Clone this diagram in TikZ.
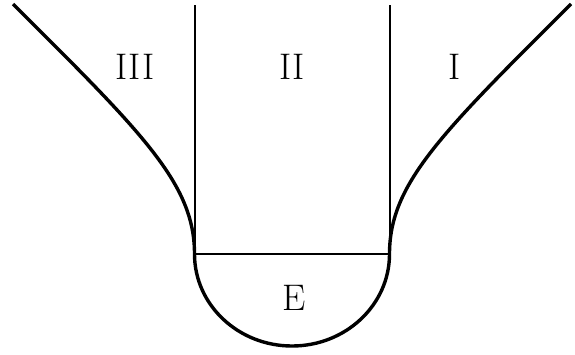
\documentclass[tikz,border=0pt]{standalone}
\begin{document}
\begin{tikzpicture}[x=1pt,y=-1pt,
  thickline/.style={line width=3.4pt},
  thinline/.style={line width=2pt},
  lab/.style={font=\fontsize{37}{40}\selectfont, inner sep=0pt}]
\useasboundingbox (0,0) rectangle (575,354);
\coordinate (LT) at (194.5,5);
\coordinate (RT) at (389.5,5);
\coordinate (LB) at (194.5,254);
\coordinate (RB) at (389.5,254);
\coordinate (LE) at (13,4);
\coordinate (RE) at (571,4);
% verticals and base
\draw[thinline] (LT) -- (LB);
\draw[thinline] (RT) -- (RB);
\draw[thinline] (LB) -- (RB);
% outer boundary
\draw[thickline] (LE) .. controls (143.5,134) and (194.5,184) .. (LB)
  arc[start angle=180, end angle=0, x radius=97.5, y radius=92]
  .. controls (389.5,184) and (440.5,134) .. (RE);
\node[lab] (III) at (135,67) {III};
\node[lab] (II) at (292,67) {II};
\node[lab] (I) at (455,67) {I};
\node[lab] (E) at (294,298) {E};
\end{tikzpicture}
\end{document}
